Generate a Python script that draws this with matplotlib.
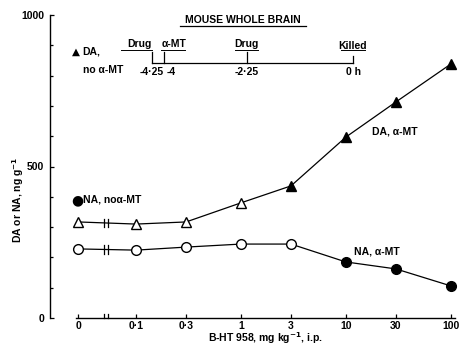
import numpy as np
import matplotlib
matplotlib.use("Agg")
import matplotlib.pyplot as plt

plt.rcParams['font.family'] = ['Liberation Sans', 'DejaVu Sans']
plt.rcParams['font.weight'] = 'bold'
plt.rcParams['font.size'] = 7.5

# dose of B-HT 958 (mg/kg) and brain amine levels (ng/g)
dose = np.array([0, 0.1, 0.3, 1, 3, 10, 30, 100])
dose_labels = ["0", "0·1", "0·3", "1", "3", "10", "30", "100"]
da = np.array([317, 310, 317, 380, 436, 597, 713, 838])
na = np.array([228, 224, 234, 244, 244, 185, 162, 106])
da_filled = [False, False, False, False, True, True, True, True]
na_filled = [False, False, False, False, False, True, True, True]

# timeline of the experiment (h)
t_events = [-4.25, -4, -2.25, 0]
t_labels = ["-4·25", "-4", "-2·25", "0 h"]

zero_pos = -1.55
xpos = np.where(dose > 0, np.log10(np.where(dose > 0, dose, 1)), zero_pos)
brk = -1.285

fig = plt.figure(figsize=(4.62, 3.47), dpi=100)
ax = fig.add_axes([50/462, 1-318/347, 406/462, 303/347])
ax.set_xlim(-1.82, 2.05)
ax.set_ylim(0, 1000)

lw = 0.9
for vals, filled, mk in [(da, da_filled, '^'), (na, na_filled, 'o')]:
    ax.plot(xpos, vals, '-', color='black', lw=lw, zorder=2, clip_on=False)
    for x, y, f in zip(xpos, vals, filled):
        ax.plot(x, y, mk, ms=7 if mk == 'o' else 6.5, mec='black', mew=1.0,
                mfc='black' if f else 'white', zorder=3, clip_on=False)
    yb = np.interp(brk, xpos[:2], vals[:2])
    for d in (-0.02, 0.02):
        ax.plot([brk + d, brk + d], [yb - 14, yb + 14], color='black', lw=lw, zorder=3)

# axis break on x axis
for d in (-0.02, 0.02):
    ax.plot([brk + d, brk + d], [0, 14], color='black', lw=lw, clip_on=False)

for s in ['top', 'right']:
    ax.spines[s].set_visible(False)
ax.spines['bottom'].set_bounds(-1.57, 2.04)
ax.spines['left'].set_linewidth(1.0)
ax.spines['bottom'].set_linewidth(1.0)

ax.set_xticks(xpos)
ax.set_xticklabels(dose_labels)
ax.set_yticks([0, 500, 1000])
ax.set_yticks(np.arange(100, 1000, 100), minor=True)
ax.tick_params(axis='both', direction='in', length=3, width=0.9, pad=4)
ax.tick_params(axis='x', pad=2)
ax.tick_params(axis='y', which='minor', direction='in', length=2.5, width=0.9)

fig.text(18/462, 1-200/347, "DA or NA, ng g$^{\\mathbf{-1}}$", rotation=90,
         ha='center', va='center')
fig.text(265/462, 1-338/347, "B-HT 958, mg kg$^{\\mathbf{-1}}$, i.p.",
         ha='center', va='center')

# annotations
fig.text(72/462, 1-52/347, "▲", ha='left', va='center', family=['DejaVu Sans'], fontsize=7.5)
fig.text(82/462, 1-52/347, "DA,", ha='left', va='center')
fig.text(83/462, 1-70/347, "no α-MT", ha='left', va='center')
fig.text(71/462, 1-200/347, "●", ha='left', va='center', family=['DejaVu Sans'], fontsize=10)
fig.text(83/462, 1-200/347, "NA, noα-MT", ha='left', va='center')
fig.text(372/462, 1-131/347, "DA, α-MT", ha='left', va='center')
fig.text(354/462, 1-251/347, "NA, α-MT", ha='left', va='center')

# title
fig.text(243/462, 1-20/347, "MOUSE WHOLE BRAIN", ha='center', va='center')
fig.add_artist(plt.Line2D([180/462, 306/462], [1-26/347, 1-26/347], color='black', lw=0.9))

# timeline inset
tax = fig.add_axes([152/462, 1-80/347, 201/462, 40/347])
tax.set_xlim(-4.25, 0)
tax.set_ylim(0, 1)
tax.axis('off')
tax.plot([t_events[0], t_events[-1]], [0.42, 0.42], color='black', lw=lw, clip_on=False)
tops = [0.7, 0.7, 0.7, 0.6]
for t, top in zip(t_events, tops):
    tax.plot([t, t], [0.42, top], color='black', lw=lw, clip_on=False)
tax.text(-4.25, 0.78, "Drug", ha='right', va='bottom')
tax.text(-4.05, 0.78, "α-MT", ha='left', va='bottom')
tax.text(-2.25, 0.78, "Drug", ha='center', va='bottom')
tax.text(0, 0.72, "Killed", ha='center', va='bottom')
for x0, x1 in [(-4.9, -4.25), (-4.05, -3.55), (-2.5, -2.0), (-0.25, 0.25)]:
    tax.plot([x0, x1], [0.74, 0.74], color='black', lw=0.7, clip_on=False)
tax.text(-4.25, 0.2, t_labels[0], ha='center', va='center')
tax.text(-3.95, 0.2, t_labels[1], ha='left', va='center')
tax.text(-2.25, 0.2, t_labels[2], ha='center', va='center')
tax.text(0, 0.2, t_labels[3], ha='center', va='center')

fig.savefig("out.png", dpi=100)
